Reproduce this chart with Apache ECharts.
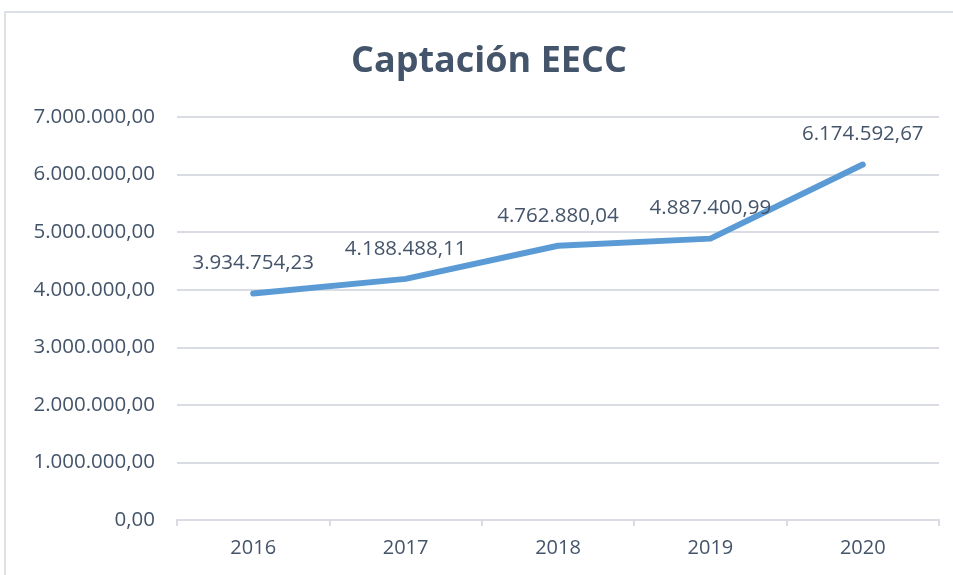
<!DOCTYPE html>
<html>
<head>
<meta charset="utf-8">
<script src="https://cdn.jsdelivr.net/npm/echarts@6/dist/echarts.min.js"></script>
<style>
  html, body { margin: 0; padding: 0; background: #fff; }
  #chart { width: 953px; height: 575px; }
</style>
</head>
<body>
<div id="chart"></div>
<script>
const years = ['2016', '2017', '2018', '2019', '2020']
const captacion = [3934754.23, 4188488.11, 4762880.04, 4887400.99, 6174592.67]
const yTicks = [0, 1000000, 2000000, 3000000, 4000000, 5000000, 6000000, 7000000]

const textColor = '#44546A'
const gridColor = '#D9DDE3'
const font = '"Open Sans", sans-serif'

// formato español: 1.234.567,89
const fmtEs = (v) => {
  let parts = v.toFixed(2).split('.')
  let ent = parts[0].replace(/\B(?=(\d{3})+(?!\d))/g, '.')
  return ent + ',' + parts[1]
}

const myChart = echarts.init(document.getElementById('chart'))

const option = {
  animation: false,
  title: {
    text: 'Captación EECC',
    left: 346,
    top: 39,
    textStyle: { color: textColor, fontSize: 36, fontWeight: 'bold', fontFamily: font }
  },
  grid: { left: 177, right: 14, top: 117, bottom: 55 },
  graphic: [{
    type: 'rect',
    shape: { x: 5, y: 12, width: 1000, height: 600 },
    style: { fill: 'none', stroke: '#DDE1E6', lineWidth: 2 },
    z: -1
  }],
  xAxis: {
    type: 'category',
    data: years,
    boundaryGap: true,
    axisLine: { lineStyle: { color: gridColor, width: 2 } },
    axisTick: { show: true, length: 6, lineStyle: { color: gridColor, width: 2 } },
    axisLabel: { color: textColor, fontSize: 20, fontFamily: font, margin: 18 }
  },
  yAxis: {
    type: 'value',
    min: 0,
    max: 7000000,
    interval: 1000000,
    axisLine: { show: false },
    axisTick: { show: false },
    splitLine: { lineStyle: { color: gridColor, width: 2 } },
    axisLabel: {
      color: textColor, fontSize: 20.5, fontFamily: font, margin: 22,
      formatter: (v) => yTicks.includes(v) ? fmtEs(v) : ''
    }
  },
  series: [{
    type: 'line',
    data: captacion,
    symbol: 'circle',
    symbolSize: 1,
    showSymbol: true,
    itemStyle: { color: '#5B9BD5' },
    lineStyle: { color: '#5B9BD5', width: 6, cap: 'round', join: 'round' },
    label: {
      show: true,
      position: 'top',
      distance: 19,
      color: textColor,
      fontSize: 20.5,
      fontFamily: font,
      formatter: (p) => fmtEs(p.value)
    }
  }]
}

myChart.setOption(option)
</script>
</body>
</html>
